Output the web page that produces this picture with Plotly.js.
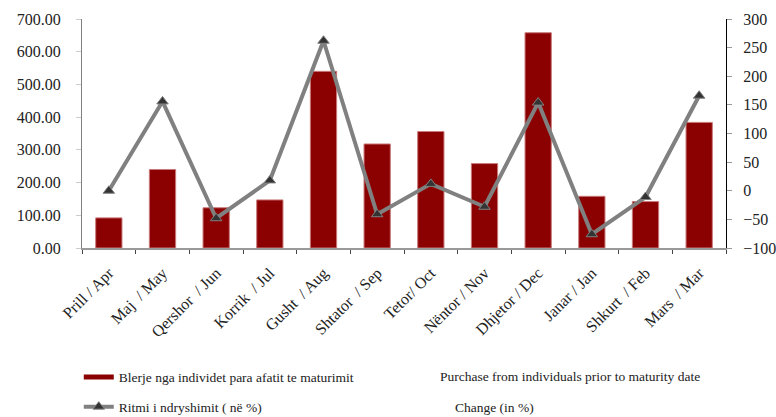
<!DOCTYPE html>
<html>
<head>
<meta charset="utf-8">
<script src="https://cdn.plot.ly/plotly-3.0.1.min.js"></script>
<style>html,body{margin:0;padding:0;background:#fff;}#chart{width:776px;height:417px;}</style>
</head>
<body>
<div id="chart"></div>
<script>
const categories = ["Prill / Apr", "Maj \u00a0/ May", "Qershor \u00a0/ Jun", "Korrik \u00a0/ Jul", "Gusht \u00a0/ Aug", "Shtator \u00a0/ Sep", "Tetor/ Oct", "Nëntor / Nov", "Dhjetor / Dec", "Janar / Jan", "Shkurt \u00a0/ Feb", "Mars \u00a0/ Mar"];
const purchases = [92, 240, 123, 147, 540, 318, 356, 258, 658, 158, 142, 384];
const changePct = [0, 156, -48, 18, 262, -41, 12, -28, 154, -76, -11, 166];
const leftTicks = [0, 100, 200, 300, 400, 500, 600, 700];
const rightTicks = [-100, -50, 0, 50, 100, 150, 200, 250, 300];

const serif = "Liberation Serif";

const traces = [
  {
    type: 'bar', x: categories, y: purchases, yaxis: 'y',
    marker: {color: '#8B0000', line: {color: '#c97a7a', width: 1}},
    showlegend: false, hoverinfo: 'y'
  },
  {
    type: 'scatter', mode: 'lines', x: [categories[0]], y: [null],
    name: 'Blerje nga individet para afatit te maturimit',
    line: {color: '#8B0000', width: 5}, legendgroup: 'a', hoverinfo: 'skip'
  },
  {
    type: 'scatter', mode: 'lines+markers', x: categories, y: changePct, yaxis: 'y2',
    name: 'Ritmi i ndryshimit ( në %)', legendgroup: 'b',
    line: {color: '#808080', width: 4},
    marker: {symbol: 'triangle-up', size: 10, color: '#333333', line: {color: '#808080', width: 1}}
  }
];

const layout = {
  width: 776, height: 417,
  margin: {l: 82, r: 50, t: 19, b: 169, autoexpand: false},
  paper_bgcolor: '#fff', plot_bgcolor: '#fff',
  font: {family: serif, color: '#222', size: 14},
  bargap: 0.51,
  xaxis: {
    type: 'category', range: [-0.5, 11.5], tickangle: -45, showgrid: false, automargin: false,
    showline: true, linecolor: '#999', linewidth: 1.5,
    ticks: 'outside', tickson: 'boundaries', ticklen: 4, tickcolor: '#444',
    ticklabelstandoff: 8,
    tickfont: {family: serif, size: 16, color: '#222'}
  },
  yaxis: {
    range: [0, 700], tickvals: leftTicks, tickformat: '.2f', automargin: false,
    showgrid: false, zeroline: false, showline: true, linecolor: '#808080', linewidth: 1,
    ticks: 'outside', ticklen: 5, tickcolor: '#ccc', ticklabelstandoff: 12,
    tickfont: {family: serif, size: 16, color: '#222'}
  },
  yaxis2: {
    range: [-100, 300], tickvals: rightTicks, overlaying: 'y', side: 'right', automargin: false,
    showgrid: false, zeroline: false, showline: true, linecolor: '#000', linewidth: 1,
    ticks: 'outside', ticklen: 5, tickcolor: '#999', ticklabelstandoff: 8,
    tickfont: {family: serif, size: 16, color: '#222'}
  },
  showlegend: true,
  legend: {
    x: -0.005, xanchor: 'left', y: -0.497, yanchor: 'top',
    orientation: 'v', tracegroupgap: 9,
    font: {family: serif, size: 13.5, color: '#222'},
    bgcolor: 'rgba(0,0,0,0)'
  },
  annotations: [
    {xref: 'paper', yref: 'paper', x: (438-82)/644, y: (248-377)/229, xanchor: 'left', yanchor: 'middle',
     text: 'Purchase from individuals prior to maturity date', showarrow: false,
     font: {family: serif, size: 13.5, color: '#222'}},
    {xref: 'paper', yref: 'paper', x: (453-82)/644, y: (248-407)/229, xanchor: 'left', yanchor: 'middle',
     text: 'Change (in %)', showarrow: false,
     font: {family: serif, size: 13.5, color: '#222'}}
  ]
};

Plotly.newPlot('chart', traces, layout, {displayModeBar: false, staticPlot: true});
</script>
</body>
</html>
